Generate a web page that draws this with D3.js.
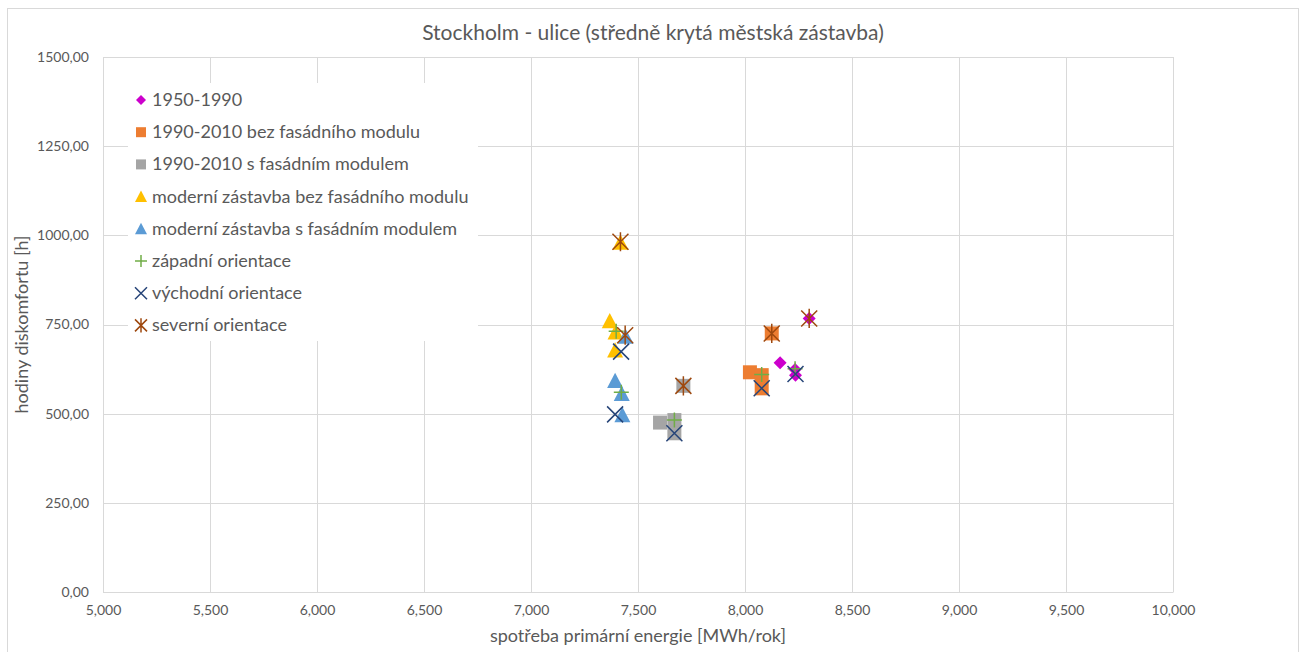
<!DOCTYPE html>
<html>
<head>
<meta charset="utf-8">
<script src="https://cdn.jsdelivr.net/npm/d3@7"></script>
<style>
  html, body { margin: 0; padding: 0; background: #fff; }
  svg { display: block; font-family: Lato, "Open Sans", sans-serif; }
</style>
</head>
<body>
<svg id="chart" width="1307" height="652"></svg>
<script>
// Building types (x: primary energy [MWh/year], y: discomfort hours [h])
const typeNames = [
  "1950-1990",
  "1990-2010 bez fasádního modulu",
  "1990-2010 s fasádním modulem",
  "moderní zástavba bez fasádního modulu",
  "moderní zástavba s fasádním modulem"
];
const type1950X = [8300, 8164, 8234, 8236];
const type1950Y = [767, 643, 624, 608];
const type1990bezX = [8125, 8023, 8078, 8078];
const type1990bezY = [725, 616, 608, 571];
const type1990sX = [7712, 7603, 7670, 7670];
const type1990sY = [578, 475, 482, 445];
const modernBezX = [7418, 7368, 7395, 7393];
const modernBezY = [980, 760, 728, 678];
const modernSX = [7442, 7393, 7424, 7427];
const modernSY = [716, 592, 556, 496];

// Orientation overlays
const orientNames = ["západní orientace", "východní orientace", "severní orientace"];
const westX = [8234, 8078, 7670, 7398, 7422];
const westY = [626, 610, 482, 731, 560];
const eastX = [8236, 8078, 7670, 7421, 7393];
const eastY = [611, 571, 445, 674, 498];
const northX = [8300, 8125, 7712, 7418, 7440];
const northY = [767, 725, 578, 982, 720];

const xTicks = [5000, 5500, 6000, 6500, 7000, 7500, 8000, 8500, 9000, 9500, 10000];
const yTicks = [0, 250, 500, 750, 1000, 1250, 1500];

const svg = d3.select("#chart");
const plotLeft = 103, plotRight = 1173, plotTop = 57, plotBottom = 592;

const x = d3.scaleLinear().domain([5000, 10000]).range([plotLeft, plotRight]);
const y = d3.scaleLinear().domain([0, 1500]).range([plotBottom, plotTop]);

// Outer chart frame
svg.append("rect").attr("x", 7.5).attr("y", 8.5).attr("width", 1291).attr("height", 660)
  .attr("fill", "none").attr("stroke", "#d9d9d9");

// Gridlines
svg.append("g").selectAll("line").data(xTicks).join("line")
  .attr("x1", d => Math.round(x(d)) + 0.5).attr("x2", d => Math.round(x(d)) + 0.5)
  .attr("y1", plotTop).attr("y2", plotBottom).attr("stroke", "#d9d9d9");
svg.append("g").selectAll("line").data(yTicks).join("line")
  .attr("x1", plotLeft).attr("x2", plotRight)
  .attr("y1", d => Math.round(y(d)) + 0.5).attr("y2", d => Math.round(y(d)) + 0.5)
  .attr("stroke", "#d9d9d9");

// Axes (labels only)
const fmtX = d3.format(",d");
const xAxis = d3.axisBottom(x).tickValues(xTicks).tickSize(0).tickPadding(13)
  .tickFormat(d => fmtX(d));
const gx = svg.append("g").attr("transform", `translate(0,${plotBottom})`).call(xAxis);
gx.select(".domain").attr("stroke", "#d9d9d9");
gx.selectAll("text").attr("fill", "#595959").style("font-size", "14px").style("font-family", "Lato, sans-serif");

const yAxis = d3.axisLeft(y).tickValues(yTicks).tickSize(0).tickPadding(14)
  .tickFormat(d => d3.format(".2f")(d).replace(".", ","));
const gy = svg.append("g").attr("transform", `translate(${plotLeft},0)`).call(yAxis);
gy.select(".domain").remove();
gy.selectAll("text").attr("fill", "#595959").style("font-size", "14px").style("font-family", "Lato, sans-serif");

// Titles
svg.append("text").attr("x", 653).attr("y", 40).attr("text-anchor", "middle")
  .attr("fill", "#595959").style("font-size", "21px")
  .text("Stockholm - ulice (středně krytá městská zástavba)");
svg.append("text").attr("x", (plotLeft + plotRight) / 2).attr("y", 642).attr("text-anchor", "middle")
  .attr("fill", "#595959").style("font-size", "18px")
  .text("spotřeba primární energie [MWh/rok]");
svg.append("text").attr("transform", `translate(28,${(plotTop + plotBottom) / 2}) rotate(-90)`)
  .attr("text-anchor", "middle").attr("fill", "#595959").style("font-size", "18px")
  .text("hodiny diskomfortu [h]");

// Marker symbols
const sym = {
  diamond: s => `M0,${-s}L${s},0L0,${s}L${-s},0Z`,
  square: s => `M${-s},${-s}H${s}V${s}H${-s}Z`,
  triangle: s => `M0,${-s}L${s},${s * 0.9}L${-s},${s * 0.9}Z`,
  plus: s => `M${-s},0H${s}M0,${-s}V${s}`,
  cross: s => `M${-s},${-s}L${s},${s}M${s},${-s}L${-s},${s}`,
  star: s => `M${-s},${-s}L${s},${s}M${s},${-s}L${-s},${s}M0,${-s * 1.2}V${s * 1.2}`
};

const series = [
  { name: typeNames[0], xs: type1950X, ys: type1950Y, shape: "diamond", color: "#cc00cc", size: 6.5, legSize: 5, fill: true },
  { name: typeNames[1], xs: type1990bezX, ys: type1990bezY, shape: "square", color: "#ed7d31", size: 7, legSize: 5, fill: true },
  { name: typeNames[2], xs: type1990sX, ys: type1990sY, shape: "square", color: "#a5a5a5", size: 7, legSize: 5, fill: true },
  { name: typeNames[3], xs: modernBezX, ys: modernBezY, shape: "triangle", color: "#ffc000", size: 8, legSize: 6, fill: true },
  { name: typeNames[4], xs: modernSX, ys: modernSY, shape: "triangle", color: "#5b9bd5", size: 8, legSize: 6, fill: true },
  { name: orientNames[0], xs: westX, ys: westY, shape: "plus", color: "#70ad47", size: 7.5, legSize: 6, fill: false },
  { name: orientNames[1], xs: eastX, ys: eastY, shape: "cross", color: "#264478", size: 8, legSize: 6, fill: false },
  { name: orientNames[2], xs: northX, ys: northY, shape: "star", color: "#9e480e", size: 8, legSize: 6, fill: false }
];

function drawMarker(g, s, size) {
  const p = g.append("path").attr("d", sym[s.shape](size));
  if (s.fill) p.attr("fill", s.color).attr("stroke", "none");
  else p.attr("fill", "none").attr("stroke", s.color).attr("stroke-width", 1.5);
  return p;
}

const plot = svg.append("g");
series.forEach(s => {
  const pts = s.xs.map((v, i) => [v, s.ys[i]]);
  const g = plot.append("g");
  pts.forEach(([vx, vy]) => {
    const m = g.append("g").attr("transform", `translate(${x(vx)},${y(vy)})`);
    drawMarker(m, s, s.size);
  });
});

// Legend
const legend = svg.append("g");
legend.append("rect").attr("x", 128).attr("y", 83).attr("width", 350).attr("height", 258).attr("fill", "#fff");
series.forEach((s, i) => {
  const cy = 100 + i * 32.2;
  const m = legend.append("g").attr("transform", `translate(141,${cy})`);
  drawMarker(m, s, s.legSize);
  legend.append("text").attr("x", 152).attr("y", cy + 6).attr("fill", "#595959")
    .style("font-size", "18px").text(s.name);
});
</script>
</body>
</html>
